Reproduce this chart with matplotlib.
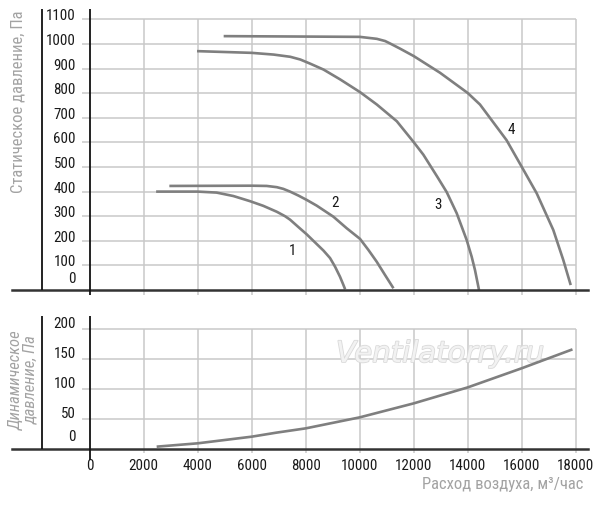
import matplotlib
matplotlib.use("Agg")
import matplotlib.pyplot as plt
import matplotlib.patheffects as pe
from matplotlib import font_manager

# ---------------- data ----------------
x_ticks = [0, 2000, 4000, 6000, 8000, 10000, 12000, 14000, 16000, 18000]
static_ticks = [0, 100, 200, 300, 400, 500, 600, 700, 800, 900, 1000, 1100]
dyn_ticks = [0, 50, 100, 150, 200]

c1_x = [2460, 4000, 4700, 5321, 5940, 6432, 6930, 7235, 7420, 7728, 8040, 8284,
        8660, 8901, 9086, 9270, 9395, 9460]
c1_y = [400, 400, 396, 382, 361, 342, 318, 300, 286, 256, 226, 200,
        160, 130, 95, 54, 21, 3]

c2_x = [2950, 6000, 6556, 6930, 7173, 7420, 7728, 8040, 8407, 9025, 9519, 10010,
        10321, 10630, 10938, 11250]
c2_y = [423, 424, 423, 418, 411, 400, 384, 366, 343, 298, 251, 208,
        163, 115, 61, 7]

c3_x = [3975, 6000, 6811, 7428, 7798, 8168, 8661, 9277, 10017, 10634, 11374, 12000,
        12358, 12668, 12875, 13222, 13593, 13963, 14148, 14270, 14419]
c3_y = [971, 964, 957, 948, 937, 920, 896, 856, 804, 754, 686, 601,
        550, 496, 460, 398, 312, 203, 135, 81, 0]

c4_x = [4962, 10005, 10634, 10942, 11127, 11497, 12000, 12976, 13999, 14455, 14700,
        15440, 16000, 16556, 17170, 17540, 17815]
c4_y = [1032, 1029, 1021, 1012, 1002, 981, 951, 883, 801, 754, 718,
        609, 501, 393, 244, 122, 20]

curve_labels = ["1", "2", "3", "4"]
label_x = [7520, 9100, 12900, 15600]
label_y = [158, 352, 345, 650]

dyn_x = [2480, 4000, 6000, 6908, 8000, 10000, 12000, 14000, 16000, 17880]
dyn_y = [3.9, 9.5, 20.6, 27.3, 34.5, 52.9, 76.3, 103, 135, 166.6]

# ---------------- fonts ----------------
avail = {f.name for f in font_manager.fontManager.ttflist}
narrow = next((f for f in ["Liberation Sans Narrow", "Roboto Condensed",
                           "Open Sans Condensed", "DejaVu Sans"] if f in avail), "DejaVu Sans")
plt.rcParams['font.family'] = [narrow, 'DejaVu Sans']

W, H = 600, 505
fig = plt.figure(figsize=(W / 100, H / 100), dpi=100)

X0PX, PXK = 89.7, 0.027          # x=0 at 89.7 px, 27 px / 1000
def xd(px):
    return (px - X0PX) / PXK

ax1 = fig.add_axes([0, 1 - 300 / H, 1, 300 / H])
S0, SK = 290.0, 0.246
ax1.set_xlim(xd(0), xd(W))
ax1.set_ylim((S0 - 300) / SK, S0 / SK)
ax1.axis('off')

ax2 = fig.add_axes([0, 0, 1, 205 / H])
D0, DK = 449.0, 0.598
ax2.set_xlim(xd(0), xd(W))
ax2.set_ylim((D0 - 505) / DK, (D0 - 300) / DK)
ax2.axis('off')

grid_c = '#c9c9c9'
curve_c = '#7f7f7f'
axis_c = '#333333'
title_c = '#a3a3a3'
tick_fs = 10.8

# ---- top panel ----
ax1.vlines(x_ticks[1:], -20, static_ticks[-1], color=grid_c, lw=1.1, zorder=1)
ax1.hlines(static_ticks[1:], xd(82), x_ticks[-1], color=grid_c, lw=1.1, zorder=1)
ax1.axhline(0, xmin=12 / W, xmax=588 / W, color=axis_c, lw=1.8, zorder=3)
ax1.vlines([0], -20, (S0 - 9) / SK, color='#111111', lw=1.3, zorder=3)
ax1.vlines([xd(42)], 0, (S0 - 9) / SK, color='#111111', lw=1.3, zorder=3)
for v in static_ticks:
    ax1.text(xd(76), v + 12 if v else 43, str(v), ha='right', va='center',
             fontsize=tick_fs, color='#1a1a1a')
for cx, cy in [(c1_x, c1_y), (c2_x, c2_y), (c3_x, c3_y), (c4_x, c4_y)]:
    ax1.plot(cx, cy, color=curve_c, lw=1.9, solid_capstyle='butt',
             solid_joinstyle='round', zorder=2)
for t, lx, ly in zip(curve_labels, label_x, label_y):
    ax1.text(lx, ly, t, ha='center', va='center', fontsize=tick_fs, color='#1a1a1a')
ax1.text(xd(18), (S0 - 102) / SK, "Статическое давление, Па", rotation=90,
         ha='center', va='center', fontsize=12, color=title_c)

# ---- bottom panel ----
ax2.vlines(x_ticks[1:], -7, dyn_ticks[-1], color=grid_c, lw=1.1, zorder=1)
ax2.hlines(dyn_ticks[1:], xd(82), x_ticks[-1], color=grid_c, lw=1.1, zorder=1)
ax2.axhline(0, xmin=12 / W, xmax=588 / W, color=axis_c, lw=1.8, zorder=3)
ax2.vlines([0], -18, (D0 - 316) / DK, color='#111111', lw=1.3, zorder=3)
ax2.vlines([xd(42)], 0, (D0 - 316) / DK, color='#111111', lw=1.3, zorder=3)
for v in dyn_ticks:
    ax2.text(xd(76), v + 9 if v else 20, str(v), ha='right', va='center',
             fontsize=tick_fs, color='#1a1a1a')
for v in x_ticks:
    ax2.text(v, (D0 - 466) / DK, str(v), ha='center', va='center',
             fontsize=tick_fs, color='#1a1a1a')
ax2.plot(dyn_x, dyn_y, color=curve_c, lw=1.9, solid_capstyle='butt',
         solid_joinstyle='round', zorder=2)
ax2.text(xd(583), (D0 - 485) / DK, "Расход воздуха, м³/час", ha='right', va='center',
         fontsize=12, color=title_c)
ax2.text(xd(24), (D0 - 380) / DK, "Динамическое\nдавление, Па", rotation=90,
         ha='center', va='center', fontsize=12, color=title_c, style='italic',
         linespacing=0.95)
ax2.text(xd(440), (D0 - 354) / DK, "Ventilatorry.ru", ha='center', va='center',
         fontsize=21, color='#f2f2f2', style='italic', family='DejaVu Sans',
         path_effects=[pe.withStroke(linewidth=1.2, foreground='#dadada')], zorder=1.5)

fig.savefig("out.png", dpi=100)
